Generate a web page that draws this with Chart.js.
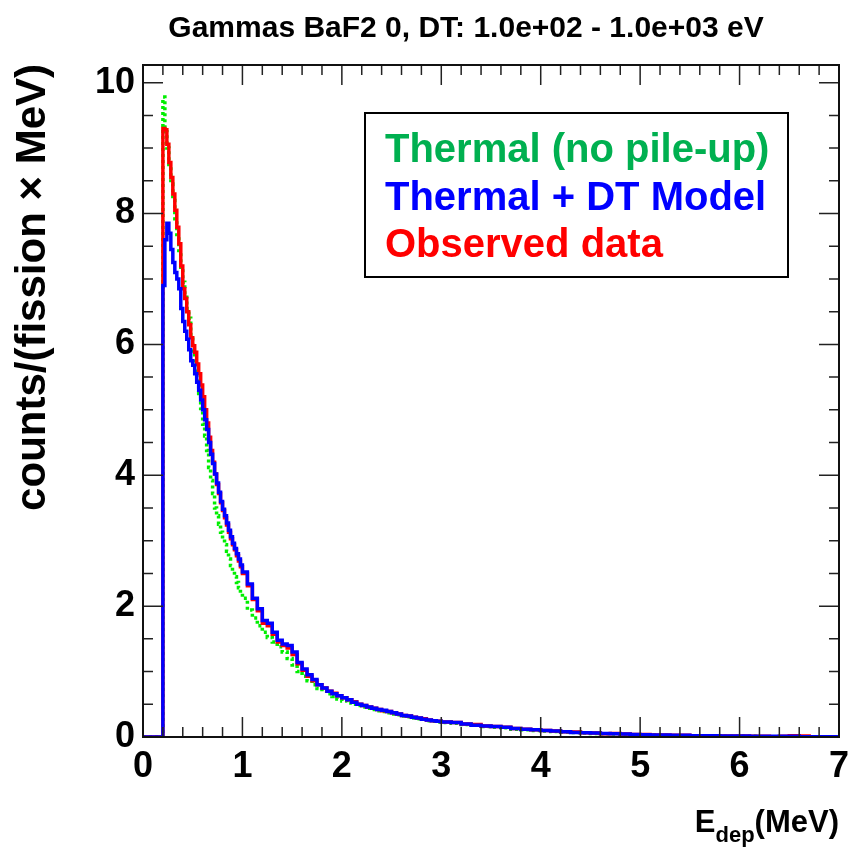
<!DOCTYPE html>
<html>
<head>
<meta charset="utf-8">
<script src="https://cdn.jsdelivr.net/npm/chart.js@4"></script>
<style>
  body { margin: 0; background: #fff; }
  #wrap { width: 850px; height: 849px; position: relative; }
</style>
</head>
<body>
<div id="wrap"><canvas id="myChart"></canvas></div>
<script>
    const titleText = "Gammas BaF2 0, DT: 1.0e+02 - 1.0e+03 eV";
    const legendLabels = ["Thermal (no pile-up)", "Thermal + DT Model", "Observed data"];
    const xTicks = [0, 1, 2, 3, 4, 5, 6, 7];
    const yTicks = [0, 2, 4, 6, 8, 10];

    // bin edges in MeV
    const binEdges = [0,
      0.20, 0.22, 0.24, 0.26, 0.28, 0.30, 0.32, 0.34, 0.36, 0.38,
      0.40, 0.42, 0.44, 0.46, 0.48, 0.50, 0.52, 0.54, 0.56, 0.58,
      0.60, 0.62, 0.64, 0.66, 0.68, 0.70, 0.72, 0.74, 0.76, 0.78,
      0.80, 0.82, 0.84, 0.86, 0.88, 0.90, 0.92, 0.94, 0.96, 0.98,
      1.00, 1.05, 1.10, 1.15, 1.20, 1.25, 1.30, 1.35, 1.40, 1.45,
      1.50, 1.55, 1.60, 1.65, 1.70, 1.75, 1.80, 1.85, 1.90, 1.95,
      2.00, 2.05, 2.10, 2.15, 2.20, 2.25, 2.30, 2.35, 2.40, 2.45,
      2.50, 2.55, 2.60, 2.65, 2.70, 2.75, 2.80, 2.85, 2.90, 2.95,
      3.0, 3.1, 3.2, 3.3, 3.4, 3.5, 3.6, 3.7, 3.8, 3.9,
      4.0, 4.1, 4.2, 4.3, 4.4, 4.5, 4.6, 4.7, 4.8, 4.9,
      5.0, 5.1, 5.2, 5.3, 5.4, 5.5, 5.6, 5.7, 5.8, 5.9,
      6.0, 6.1, 6.2, 6.3, 6.4, 6.5, 6.6, 6.7, 6.8, 6.9,
      7.0];

    const thermal = [0,
      9.78, 9.25, 9.00, 8.72, 8.45, 8.20, 7.92, 7.65, 7.40, 7.18,
      6.95, 6.75, 6.55, 6.40, 6.15, 5.90, 5.70, 5.50, 5.25, 5.02,
      4.78, 4.60, 4.38, 4.12, 3.92, 3.72, 3.50, 3.38, 3.25, 3.13,
      3.03, 2.94, 2.84, 2.72, 2.62, 2.53, 2.45, 2.36, 2.28, 2.20,
      2.12, 1.94, 1.82, 1.70, 1.60, 1.52, 1.45, 1.38, 1.30, 1.20,
      1.10, 1.00, 0.93, 0.86, 0.80, 0.74, 0.70, 0.66, 0.62, 0.58,
      0.55, 0.52, 0.50, 0.48, 0.46, 0.44, 0.42, 0.40, 0.39, 0.37,
      0.35, 0.34, 0.32, 0.31, 0.29, 0.28, 0.27, 0.25, 0.24, 0.23,
      0.22, 0.21, 0.19, 0.18, 0.16, 0.15, 0.14, 0.12, 0.11, 0.10,
      0.09, 0.085, 0.075, 0.07, 0.06, 0.055, 0.05, 0.045, 0.04, 0.035,
      0.03, 0.03, 0.025, 0.02, 0.02, 0.02, 0.015, 0.015, 0.01, 0.01,
      0.01, 0.01, 0.005, 0.005, 0.005, 0.005, 0.005, 0.005, 0.005, 0.005];

    const dtModel = [0,
      6.90, 7.60, 7.85, 7.70, 7.45, 7.25, 7.10, 7.00, 6.85, 6.55,
      6.35, 6.20, 6.08, 5.92, 5.75, 5.68, 5.55, 5.42, 5.30, 5.15,
      5.00, 4.85, 4.70, 4.50, 4.32, 4.18, 4.02, 3.88, 3.74, 3.60,
      3.48, 3.38, 3.27, 3.16, 3.06, 2.96, 2.88, 2.80, 2.72, 2.63,
      2.52, 2.34, 2.12, 1.96, 1.78, 1.74, 1.60, 1.48, 1.42, 1.40,
      1.30, 1.14, 1.04, 0.95, 0.88, 0.80, 0.75, 0.70, 0.66, 0.63,
      0.60, 0.57, 0.53, 0.50, 0.48, 0.46, 0.44, 0.42, 0.41, 0.39,
      0.37, 0.35, 0.33, 0.32, 0.30, 0.29, 0.27, 0.26, 0.25, 0.24,
      0.23, 0.22, 0.20, 0.18, 0.17, 0.16, 0.15, 0.13, 0.12, 0.11,
      0.10, 0.09, 0.08, 0.07, 0.065, 0.06, 0.055, 0.05, 0.045, 0.04,
      0.035, 0.03, 0.03, 0.025, 0.025, 0.02, 0.02, 0.02, 0.015, 0.015,
      0.015, 0.01, 0.01, 0.01, 0.01, 0.01, 0.005, 0.005, 0.005, 0.005];

    const observed = [0,
      9.30, 9.28, 9.06, 8.78, 8.55, 8.30, 8.05, 7.79, 7.54, 7.20,
      6.85, 6.70, 6.50, 6.30, 6.10, 5.98, 5.88, 5.70, 5.55, 5.38,
      5.20, 5.00, 4.80, 4.58, 4.38, 4.20, 4.02, 3.86, 3.72, 3.58,
      3.46, 3.35, 3.24, 3.13, 3.03, 2.94, 2.86, 2.77, 2.69, 2.60,
      2.50, 2.31, 2.10, 1.93, 1.74, 1.70, 1.57, 1.45, 1.40, 1.36,
      1.26, 1.12, 1.02, 0.93, 0.86, 0.80, 0.75, 0.70, 0.67, 0.63,
      0.60, 0.57, 0.54, 0.50, 0.48, 0.46, 0.44, 0.42, 0.40, 0.39,
      0.37, 0.35, 0.33, 0.32, 0.30, 0.29, 0.28, 0.26, 0.25, 0.24,
      0.23, 0.22, 0.20, 0.19, 0.17, 0.16, 0.15, 0.13, 0.12, 0.11,
      0.10, 0.09, 0.08, 0.075, 0.065, 0.06, 0.05, 0.055, 0.045, 0.04,
      0.04, 0.03, 0.03, 0.025, 0.025, 0.02, 0.02, 0.02, 0.015, 0.015,
      0.015, 0.01, 0.01, 0.0, 0.01, 0.02, 0.015, 0.005, 0.005, 0.005];

    function histPoints(vals) {
      const pts = [];
      for (let i = 0; i < vals.length; i++) pts.push({ x: binEdges[i], y: vals[i] });
      pts.push({ x: binEdges[binEdges.length - 1], y: vals[vals.length - 1] });
      return pts;
    }

    const FONT = "'Liberation Sans', Arial, sans-serif";

    // ROOT style frame, inward ticks, titles and legend box
    const rootFrame = {
      id: 'rootFrame',
      afterDatasetsDraw(chart) {
        const ctx = chart.ctx;
        const a = chart.chartArea;
        const xs = chart.scales.x, ys = chart.scales.y;
        ctx.save();
        ctx.strokeStyle = '#222';
        ctx.lineWidth = 1.5;
        for (let v = 0; v <= 7.0001; v += 0.2) {
          const px = xs.getPixelForValue(v);
          const len = Math.abs(v - Math.round(v)) < 1e-6 ? 20 : 10;
          ctx.beginPath();
          ctx.moveTo(px, a.bottom); ctx.lineTo(px, a.bottom - len);
          ctx.moveTo(px, a.top); ctx.lineTo(px, a.top + len);
          ctx.stroke();
        }
        for (let v = 0; v <= 10.0001; v += 0.5) {
          const py = ys.getPixelForValue(v);
          const len = Math.abs(v / 2 - Math.round(v / 2)) < 1e-6 ? 20 : 10;
          ctx.beginPath();
          ctx.moveTo(a.left, py); ctx.lineTo(a.left + len, py);
          ctx.moveTo(a.right, py); ctx.lineTo(a.right - len, py);
          ctx.stroke();
        }
        ctx.lineWidth = 2;
        ctx.strokeStyle = '#111';
        ctx.strokeRect(a.left, a.top, a.right - a.left, a.bottom - a.top);

        // title
        ctx.fillStyle = '#000';
        ctx.font = 'bold 30px ' + FONT;
        ctx.textAlign = 'center';
        ctx.textBaseline = 'alphabetic';
        ctx.fillText(titleText, 466, 37);

        // y axis title
        ctx.save();
        ctx.translate(45, a.top - 1);
        ctx.rotate(-Math.PI / 2);
        ctx.font = 'bold 42px ' + FONT;
        ctx.textAlign = 'right';
        ctx.fillText('counts/(fission \u00d7 MeV)', 0, 0);
        ctx.restore();

        // x axis title E_dep(MeV)
        ctx.textAlign = 'left';
        ctx.font = 'bold 31px ' + FONT;
        const wE = ctx.measureText('E').width;
        const wM = ctx.measureText('(MeV)').width;
        ctx.font = 'bold 22px ' + FONT;
        const wS = ctx.measureText('dep').width;
        let x0 = a.right - (wE + wS + wM);
        ctx.font = 'bold 31px ' + FONT;
        ctx.fillText('E', x0, 832);
        ctx.font = 'bold 22px ' + FONT;
        ctx.fillText('dep', x0 + wE, 842);
        ctx.font = 'bold 31px ' + FONT;
        ctx.fillText('(MeV)', x0 + wE + wS, 832);

        // legend box
        ctx.fillStyle = '#fff';
        ctx.fillRect(365, 113, 423, 164);
        ctx.lineWidth = 2;
        ctx.strokeStyle = '#000';
        ctx.strokeRect(365, 113, 423, 164);
        const legColors = ['#00b050', '#0000ff', '#ff0000'];
        const legBase = [162, 210, 257];
        ctx.font = 'bold 40px ' + FONT;
        for (let i = 0; i < legendLabels.length; i++) {
          ctx.fillStyle = legColors[i];
          ctx.fillText(legendLabels[i], 385, legBase[i]);
        }
        ctx.restore();
      }
    };

    function noPad(s) {
      s.paddingLeft = 0; s.paddingRight = 0;
      s.paddingTop = 0; s.paddingBottom = 0;
    }

    new Chart("myChart", {
      type: "line",
      data: {
        datasets: [{
          data: histPoints(dtModel),
          borderColor: "#0000ff",
          borderWidth: 3.5,
          stepped: 'before',
          pointRadius: 0,
          fill: false
        }, {
          data: histPoints(observed),
          borderColor: "#ff0000",
          borderWidth: 3.5,
          stepped: 'before',
          pointRadius: 0,
          fill: false
        }, {
          data: histPoints(thermal),
          borderColor: "#00ee00",
          borderWidth: 3.5,
          borderDash: [3, 3],
          stepped: 'before',
          pointRadius: 0,
          fill: false
        }]
      },
      options: {
        responsive: true,
        maintainAspectRatio: false,
        animation: false,
        layout: { padding: { left: 0, top: 65, right: 11, bottom: 72 } },
        plugins: {
          legend: { display: false },
          tooltip: { enabled: false },
          title: { display: false }
        },
        scales: {
          x: {
            type: 'linear',
            min: 0,
            max: 7,
            grid: { display: false, drawTicks: false },
            border: { display: false },
            afterBuildTicks: s => { s.ticks = xTicks.map(v => ({ value: v })); },
            afterFit: s => { s.height = 40; noPad(s); },
            ticks: {
              padding: 8,
              color: '#000',
              font: { family: FONT, size: 36, weight: 'bold' }
            }
          },
          y: {
            min: 0,
            max: 10.27,
            grid: { display: false, drawTicks: false },
            border: { display: false },
            afterBuildTicks: s => { s.ticks = yTicks.map(v => ({ value: v })); },
            afterFit: s => { s.width = 143; noPad(s); },
            ticks: {
              padding: 8,
              color: '#000',
              font: { family: FONT, size: 36, weight: 'bold' }
            }
          }
        }
      },
      plugins: [rootFrame]
    });
</script>
</body>
</html>
